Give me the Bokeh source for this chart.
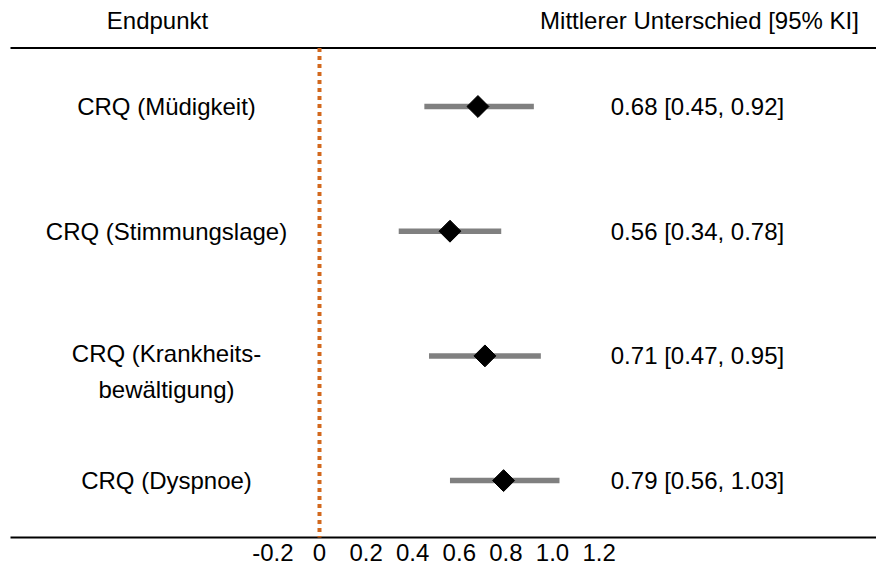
import math
from bokeh.plotting import figure
from bokeh.models import Range1d, FixedTicker, ColumnDataSource
from bokeh.core.properties import value
from bokeh.embed import file_html
from bokeh.resources import INLINE

# ---------------- data ----------------
endpoints = ["CRQ (Müdigkeit)", "CRQ (Stimmungslage)",
             "CRQ (Krankheits-\nbewältigung)", "CRQ (Dyspnoe)"]
estimate = [0.68, 0.56, 0.71, 0.79]
ci_low = [0.45, 0.34, 0.47, 0.56]
ci_high = [0.92, 0.78, 0.95, 1.03]
tick_values = [-0.2, 0.0, 0.2, 0.4, 0.6, 0.8, 1.0, 1.2]
tick_labels = ["-0.2", "0", "0.2", "0.4", "0.6", "0.8", "1.0", "1.2"]
header_left = "Endpunkt"
header_right = "Mittlerer Unterschied [95% KI]"

# ---------------- layout (figure pixels) ----------------
W, H = 876, 565
ZERO_PX = 319        # x pixel of value 0
UNIT_PX = 233        # pixels per unit
ROW0_PX = 106        # y pixel of first row
ROW_PX = 124.7       # row pitch
FONT = "Liberation Sans"
FS = 24
LINE_H = 1.3


def xd(px):
    return (px - ZERO_PX) / UNIT_PX


def yd(py):
    return (py - ROW0_PX) / ROW_PX


LEFT_COL = xd(166)
RIGHT_COL = xd(697)
HEAD_LEFT = xd(157)
HEAD_RIGHT = xd(699)
HEAD_Y = yd(20)
TOP_LINE_Y = yd(47.5)
BOTTOM_LINE_Y = yd(537)
RULE_X0 = xd(10)
RULE_X1 = xd(W)

rows = list(range(len(endpoints)))
values_text = [f"{e:.2f} [{l:.2f}, {h:.2f}]" for e, l, h in zip(estimate, ci_low, ci_high)]
label_offsets = [(t.count("\n")) * LINE_H * FS / 2 for t in endpoints]

src = ColumnDataSource(dict(row=rows, est=estimate, lo=ci_low, hi=ci_high,
                            label=endpoints, vtext=values_text, loff=label_offsets))

p = figure(width=W, height=H, output_backend="svg", toolbar_location=None,
           x_range=Range1d(xd(0), xd(W)), y_range=Range1d(yd(H), yd(0)),
           y_axis_location=None, min_border=0)
p.grid.visible = False
p.outline_line_color = None
p.background_fill_color = "white"
p.border_fill_color = "white"

# axis (tick labels)
ax = p.xaxis[0]
ax.fixed_location = BOTTOM_LINE_Y
ax.ticker = FixedTicker(ticks=tick_values)
ax.major_label_overrides = {v: s for v, s in zip(tick_values, tick_labels)}
ax.axis_line_color = None
ax.major_tick_line_color = None
ax.minor_tick_line_color = None
ax.major_label_standoff = 0
ax.major_label_text_font = FONT
ax.major_label_text_font_size = f"{FS}px"
ax.major_label_text_color = "black"

# top and bottom rules
p.segment(x0=[RULE_X0, RULE_X0], x1=[RULE_X1, RULE_X1],
          y0=[TOP_LINE_Y, BOTTOM_LINE_Y], y1=[TOP_LINE_Y, BOTTOM_LINE_Y],
          line_color="black", line_width=2)

# zero reference line
p.segment(x0=[0], x1=[0], y0=[TOP_LINE_Y], y1=[BOTTOM_LINE_Y],
          line_color="#d2691e", line_width=4, line_dash="4 4")

# confidence intervals
p.segment(x0="lo", x1="hi", y0="row", y1="row", source=src,
          line_color="#808080", line_width=5.5, line_cap="butt")

# point estimates
p.scatter(x="est", y="row", source=src, marker="square", angle=math.pi / 4,
          size=15.5, fill_color="black", line_color="black")

# endpoint labels
p.text(x=LEFT_COL, y="row", text="label", source=src, y_offset="loff",
       text_align="center", text_baseline="middle", text_font=value(FONT),
       text_font_size=f"{FS}px", text_color="black", text_line_height=LINE_H)

# value labels
p.text(x=RIGHT_COL, y="row", text="vtext", source=src,
       text_align="center", text_baseline="middle", text_font=value(FONT),
       text_font_size=f"{FS}px", text_color="black")

# headers
p.text(x=[HEAD_LEFT, HEAD_RIGHT], y=[HEAD_Y, HEAD_Y], text=[header_left, header_right],
       text_align="center", text_baseline="middle", text_font=value(FONT),
       text_font_size=f"{FS}px", text_color="black")

open("out.html", "w").write(file_html(p, INLINE))
